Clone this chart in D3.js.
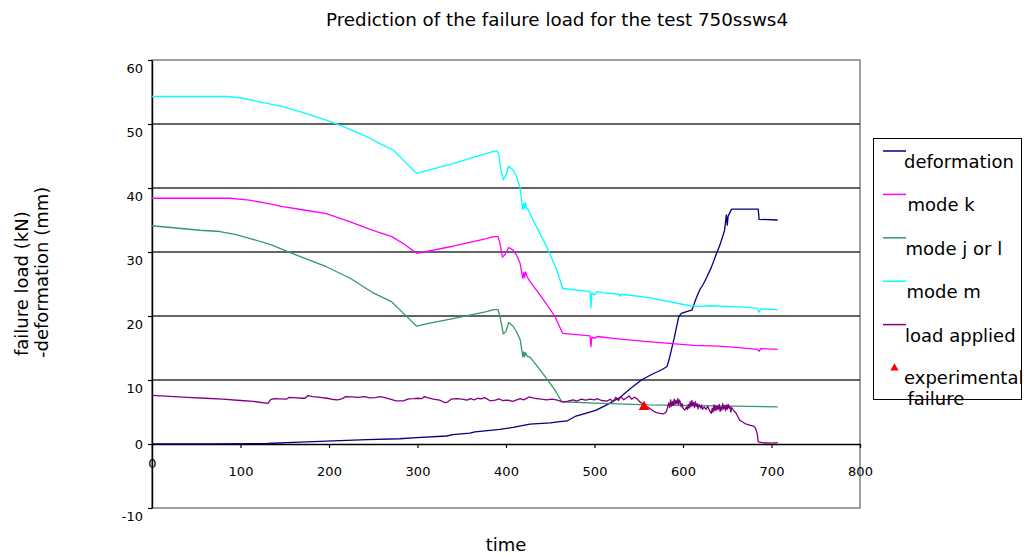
<!DOCTYPE html>
<html>
<head>
<meta charset="utf-8">
<script src="https://cdn.jsdelivr.net/npm/d3@7"></script>
<style>
  html, body { margin: 0; padding: 0; background: #fff; }
  svg { display: block; font-family: "DejaVu Sans", sans-serif; }
</style>
</head>
<body>
<svg id="chart" width="1025" height="558"></svg>
<script>
// Time series recorded during test 750ssws4: [time, value]
const deformation = [
  [0,0],[60,0],[130,0.08],[167,0.3],[205,0.5],[243,0.68],[280,0.82],[299,1.0],[333,1.25],
  [340,1.45],[359,1.7],[365,1.9],[393,2.3],[408,2.6],[427,3.1],[450,3.3],[461,3.5],[469,3.6],
  [478,4.3],[490,4.8],[502,5.3],[515,6.2],[529,7.3],[540,8.6],[553,10.0],[565,10.9],[576,11.6],
  [582,12.1],[585,13.6],[590,16.5],[595,19.8],[598,20.4],[604,20.7],[610,20.9],[615,22.8],
  [619,24.1],[623,25.0],[627,26.1],[632,27.6],[638,29.8],[642,31.2],[647,33.4],[649,35.8],
  [650,34.2],[651,35.6],[655,36.7],[670,36.7],[685,36.7],[686,35.1],[707,35.0]
];
const modeK = [
  [0,38.4],[88,38.4],[110,38.1],[130,37.6],[148,37.1],[170,36.6],[197,36.0],[224,34.7],
  [245,33.6],[258,33.0],[271,32.4],[285,31.2],
  [299,29.8],[340,30.9],[378,32.1],[386,32.4],[391,32.4],[393,31.5],[396,29.2],[399,29.6],
  [403,30.7],[408,30.3],[412,29.5],[416,28.2],[418,26.6],[419,25.9],[420,26.8],[421,26.0],
  [422,26.9],[424,26.1],[427,25.4],[440,23.0],[455,20.0],[464,17.3],[495,16.9],[496,15.2],
  [497,16.7],[500,16.5],[503,16.8],[529,16.4],[560,16.0],[612,15.4],[640,15.3],[660,15.1],
  [684,14.8],[686,14.5],[688,14.9],[707,14.8]
];
const modeJorL = [
  [0,34.1],[54,33.4],[77,33.2],[95,32.7],[111,32.1],[135,31.1],[156,29.9],[175,28.9],
  [197,27.7],[224,25.9],[250,23.6],
  [271,22.2],[288,19.9],[299,18.4],[314,18.9],[340,19.6],[378,20.7],[386,21.0],[391,21.0],
  [393,20.0],[397,17.2],[400,17.6],[403,19.0],[408,18.4],[412,17.5],[416,16.3],[418,14.5],
  [419,13.6],[420,14.4],[421,13.6],[422,14.3],[424,13.7],[427,13.6],[440,11.3],[455,8.5],
  [463,6.6],[500,6.4],[560,6.1],[620,6.0],[707,5.8]
];
const modeM = [
  [0,54.3],[84,54.3],[100,54.1],[120,53.5],[148,52.7],[170,51.8],[197,50.6],[220,49.4],
  [243,48.0],[258,46.9],[273,45.9],
  [280,44.9],[290,43.5],[299,42.3],[340,43.8],[378,45.4],[385,45.7],[390,45.8],[392,45.2],
  [394,43.0],[397,41.3],[400,42.0],[403,43.4],[408,42.8],[412,41.8],[416,40.0],[418,37.5],
  [419,36.6],[420,37.6],[421,36.8],[422,37.7],[423,36.9],[425,36.6],[427,36.0],[446,30.8],
  [458,27.0],[464,24.3],[484,24.0],[495,23.8],[496,21.3],[497,23.6],[500,23.3],[503,23.8],
  [510,23.6],[528,23.4],[529,23.1],[530,23.4],[560,22.9],[608,21.6],[620,21.5],[630,21.6],
  [649,21.5],[670,21.4],[684,21.2],[686,20.6],[688,21.1],[707,21.0]
];
const loadApplied = [
  [0,7.6],[20,7.45],[40,7.3],[60,7.15],[80,7.0],[100,6.8],[115,6.65],[131,6.35],[134,6.95],
  [138,7.1],[145,7.05],[152,7.0],[155,7.3],[160,7.25],[170,7.15],[173,7.15],[176,7.55],
  [182,7.4],[190,7.3],[198,7.15],[205,6.95],[210,6.9],[215,7.1],[219,7.4],[226,7.35],
  [232,7.3],[240,7.4],[246,7.2],[252,7.25],[258,7.4],[262,7.3],[268,7.05],[276,6.75],
  [284,6.75],[290,7.05],[296,7.1],[300,7.15],[305,7.1],[308,7.4],[312,7.2],[318,7.0],
  [325,6.85],[331,6.45],[334,6.55],[338,7.0],[344,7.1],[350,7.0],[356,6.85],[360,7.1],
  [364,6.9],[368,7.15],[372,7.05],[376,7.25],[382,6.75],[388,6.85],[392,7.05],[396,6.8],
  [402,6.85],[408,6.65],[412,6.9],[416,7.1],[420,6.9],[426,7.35],[430,7.2],[435,7.1],
  [440,7.0],[446,6.9],[452,7.0],[457,6.9],[465,6.55],[470,6.7],[476,6.9],[480,6.7],
  [485,7.0],[490,6.85],[495,7.0],[500,6.9],[503,7.1],[508,6.8],[514,6.7],[518,7.0],
  [521,6.6],[524,7.3],[527,6.8],[530,7.4],[533,6.9],[536,7.2],[539,7.5],[542,7.0],
  [545,7.3],[548,7.1],[551,6.6],[553,6.4],[558,5.9],[562,5.6],[566,5.2],[570,4.9],
  [574,4.8],[578,4.7],[581,5.0],[584,6.4],[585,5.7],[586,6.9],[587,5.9],[588,6.6],
  [589,6.0],[590,7.0],[591,6.2],[592,6.8],[593,6.3],[594,7.1],[595,6.1],[596,6.9],
  [597,6.5],[598,5.8],[599,6.3],[600,5.6],[602,5.3],[604,5.8],[605,5.4],[606,6.2],
  [607,5.6],[608,6.6],[609,5.8],[610,6.8],[611,6.0],[612,6.5],[613,5.7],[614,6.6],
  [615,5.9],[616,6.3],[617,5.5],[618,6.2],[620,5.6],[621,6.1],[622,5.4],[624,5.8],
  [626,5.4],[628,5.9],[630,5.2],[632,4.8],[633,5.6],[634,5.0],[635,6.1],[636,5.2],
  [637,6.0],[638,5.3],[639,5.9],[640,5.4],[641,6.2],[642,5.1],[643,5.8],[644,5.3],
  [645,6.3],[646,5.5],[647,6.0],[648,5.2],[649,6.1],[650,5.4],[651,6.2],[652,5.6],
  [653,5.9],[654,5.0],[655,5.7],[657,5.3],[660,4.8],[664,3.75],[670,3.2],[676,2.9],
  [680,2.8],[682,2.45],[684,1.5],[685,0.35],[689,0.2],[700,0.15],[707,0.2]
];
const experimentalFailure = [[556,5.8]];

const seriesNames = ["deformation", "mode k", "mode j or l", "mode m", "load applied"];
const seriesData = [deformation, modeK, modeJorL, modeM, loadApplied];
const seriesColors = ["#000080", "#ff00ff", "#339966", "#00ffff", "#800080"];
const failureLabel = ["experimental", "failure"];
const failureColor = "#ff0000";

const xTicks = [0, 100, 200, 300, 400, 500, 600, 700, 800];
const yTicks = [-10, 0, 10, 20, 30, 40, 50, 60];
const gridValues = [10, 20, 30, 40, 50];

const titleText = "Prediction of the failure load for the test 750ssws4";
const xTitle = "time";
const yTitleLines = ["failure load (kN)", "-deformation (mm)"];

// ---- layout ----
const svg = d3.select("#chart");
const plot = { left: 152, right: 860, top: 60, bottom: 508 };

const x = d3.scaleLinear().domain([0, 800]).range([plot.left, plot.right]);
const y = d3.scaleLinear().domain([-10, 60]).range([plot.bottom, plot.top]);
const plainNumber = d => String(d);

// plot-area frame
svg.append("rect")
  .attr("x", plot.left).attr("y", plot.top)
  .attr("width", plot.right - plot.left).attr("height", plot.bottom - plot.top)
  .attr("fill", "none").attr("stroke", "#808080").attr("stroke-width", 1.5);

// horizontal gridlines
svg.append("g").selectAll("line").data(gridValues).join("line")
  .attr("x1", plot.left).attr("x2", plot.right)
  .attr("y1", d => y(d)).attr("y2", d => y(d))
  .attr("stroke", "#303030").attr("stroke-width", 1.4);

// y axis
const yAxis = svg.append("g")
  .attr("transform", `translate(${plot.left},0)`)
  .call(d3.axisLeft(y).tickValues(yTicks).tickFormat(plainNumber)
    .tickSize(4).tickSizeOuter(0).tickPadding(5));
yAxis.select(".domain").attr("stroke", "#000").attr("stroke-width", 1.4);
yAxis.selectAll(".tick line").attr("stroke", "#000").attr("stroke-width", 1.2);
yAxis.selectAll("text")
  .attr("font-size", 13).attr("font-family", "DejaVu Sans").attr("fill", "#000")
  .attr("y", d => d === 0 ? 0 : 8);

// x axis along zero
const xAxis = svg.append("g")
  .attr("transform", `translate(0,${y(0)})`)
  .call(d3.axisBottom(x).tickValues(xTicks).tickFormat(plainNumber)
    .tickSize(4).tickSizeOuter(0).tickPadding(23));
xAxis.select(".domain").attr("stroke", "#000").attr("stroke-width", 1.4);
xAxis.selectAll(".tick line").attr("stroke", "#000").attr("stroke-width", 1.2);
xAxis.selectAll("text")
  .attr("font-size", 13).attr("font-family", "DejaVu Sans").attr("fill", "#000")
  .attr("y", d => d === 0 ? 15 : 23);

// series lines
const line = d3.line().x(d => x(d[0])).y(d => y(d[1]));
svg.append("g").selectAll("path").data(seriesData).join("path")
  .attr("d", line)
  .attr("fill", "none")
  .attr("stroke", (d, i) => seriesColors[i])
  .attr("stroke-width", 1.3)
  .attr("stroke-linejoin", "round");

// experimental failure marker
const tri = d3.symbol().type(d3.symbolTriangle).size(50);
svg.append("g").selectAll("path").data(experimentalFailure).join("path")
  .attr("d", tri)
  .attr("transform", d => `translate(${x(d[0])},${y(d[1])})`)
  .attr("fill", failureColor);

// titles
svg.append("text")
  .attr("x", 557).attr("y", 26)
  .attr("text-anchor", "middle").attr("font-size", 18.3)
  .text(titleText);

svg.append("text")
  .attr("x", 506).attr("y", 551)
  .attr("text-anchor", "middle").attr("font-size", 18)
  .text(xTitle);

const yTitleX = [27.5, 48];
const yTitleStart = [356, 358];
svg.append("g").selectAll("text").data(yTitleLines).join("text")
  .attr("transform", (d, i) => `translate(${yTitleX[i]},${yTitleStart[i]}) rotate(-90)`)
  .attr("font-size", 18)
  .text(d => d);

// legend
const legend = svg.append("g");
legend.append("rect")
  .attr("x", 873.5).attr("y", 138.5).attr("width", 148).attr("height", 261)
  .attr("fill", "#fff").attr("stroke", "#000").attr("stroke-width", 1);

const rowStep = 43.4, rowTop = 151;
const items = legend.selectAll("g.item").data(seriesNames).join("g")
  .attr("class", "item")
  .attr("transform", (d, i) => `translate(0,${rowTop + i * rowStep})`);
items.append("line")
  .attr("x1", 883).attr("x2", 906).attr("y1", 0).attr("y2", 0)
  .attr("stroke", (d, i) => seriesColors[i]).attr("stroke-width", 1.5);
items.append("text")
  .attr("x", (d, i) => [904, 907.5, 905.5, 906.5, 905][i]).attr("y", 17)
  .attr("font-size", 18)
  .text(d => d);

const fy = rowTop + seriesNames.length * rowStep;
legend.append("path")
  .attr("d", d3.symbol().type(d3.symbolTriangle).size(30))
  .attr("transform", `translate(894.5,${fy})`)
  .attr("fill", failureColor);
legend.append("text")
  .attr("font-size", 18)
  .selectAll("tspan").data(failureLabel).join("tspan")
  .attr("x", (d, i) => i === 0 ? 904 : 907.5)
  .attr("y", (d, i) => fy + 16 + i * 21)
  .text(d => d);
</script>
</body>
</html>
